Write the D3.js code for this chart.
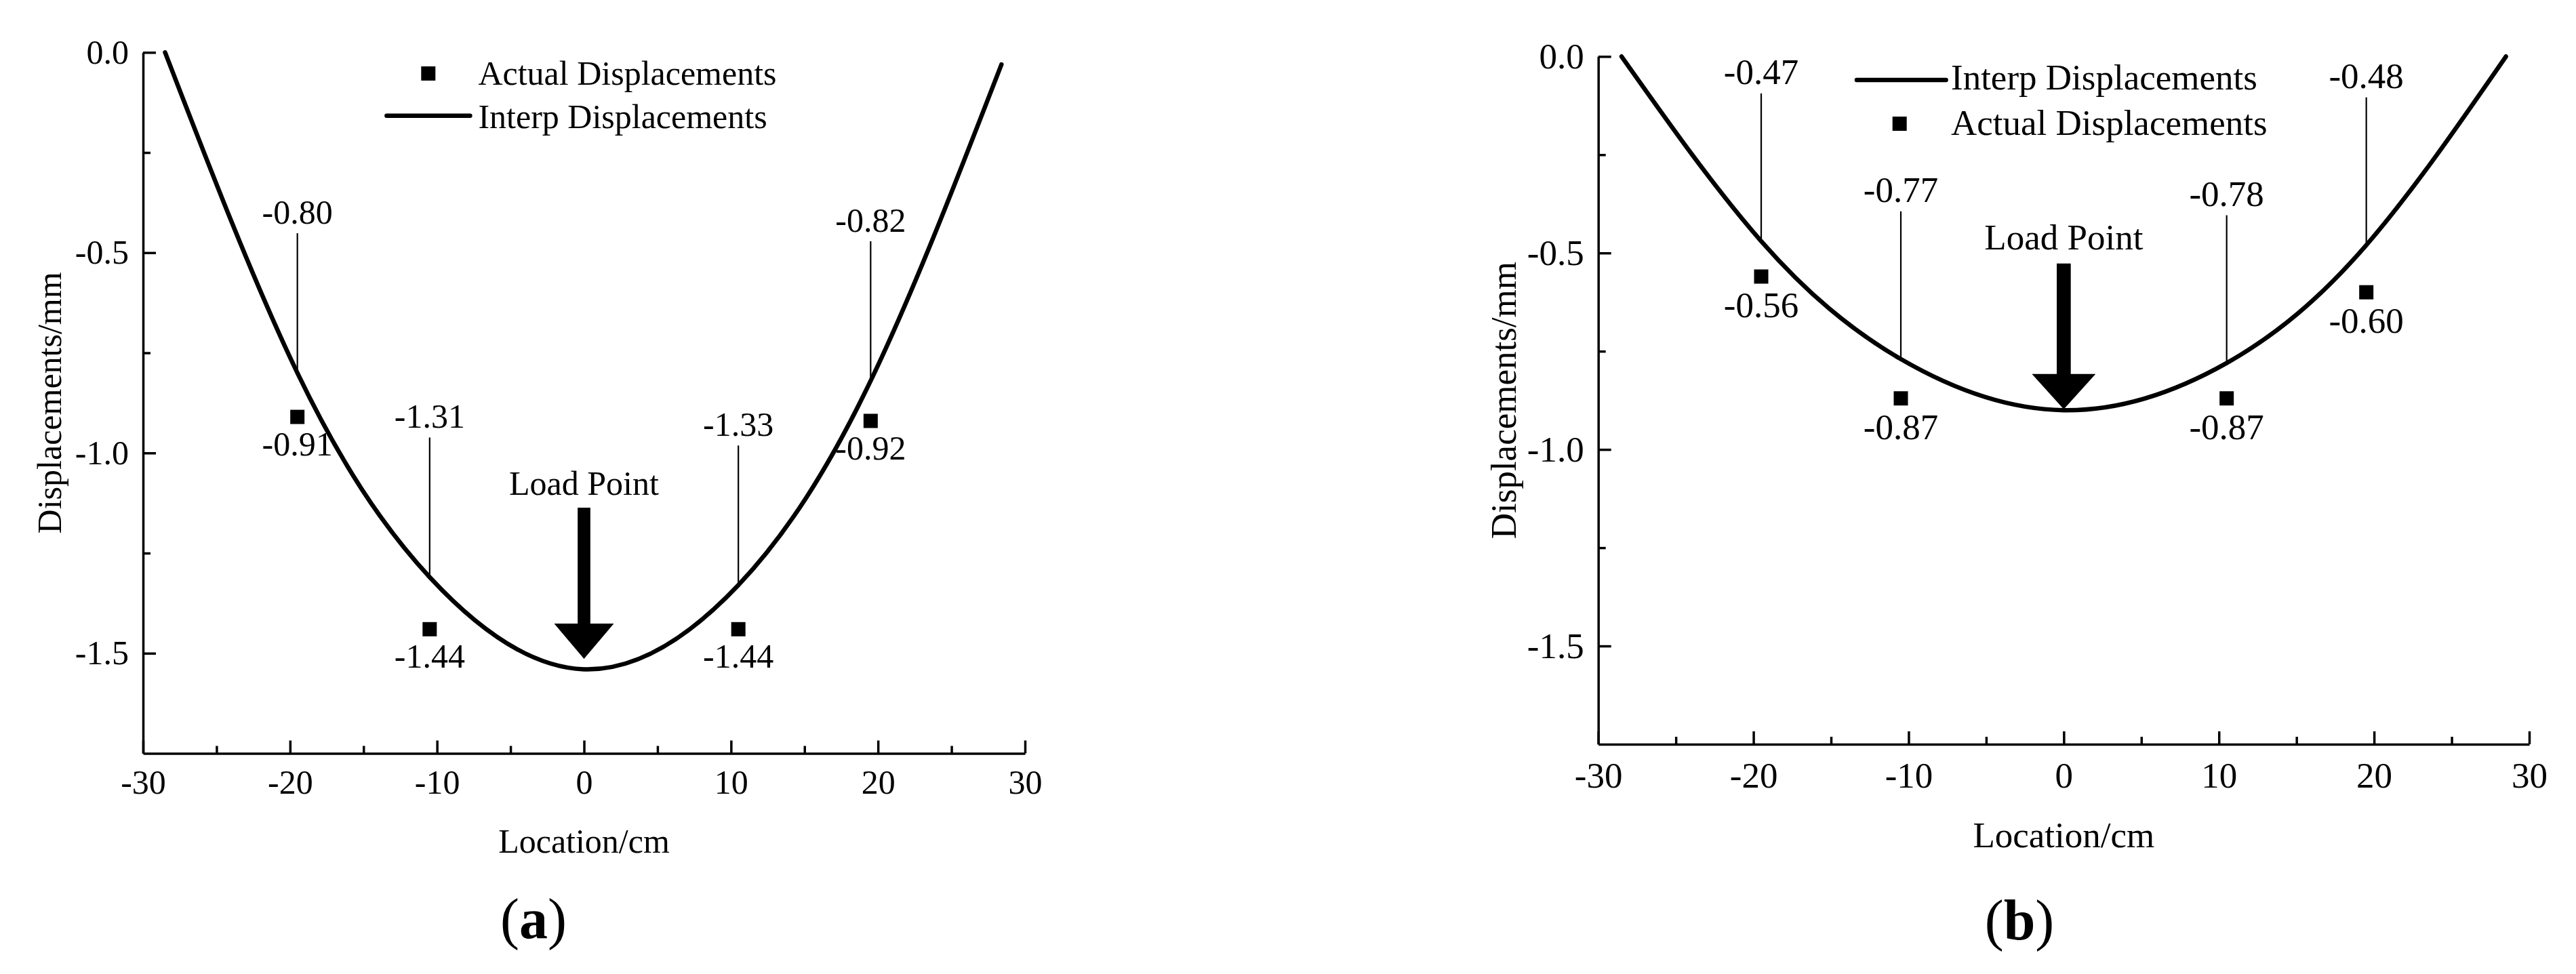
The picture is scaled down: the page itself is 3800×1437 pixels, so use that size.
<!DOCTYPE html>
<html>
<head>
<meta charset="utf-8">
<script src="https://cdn.jsdelivr.net/npm/d3@7"></script>
<style>
  body { margin: 0; background: #fff; }
  svg { display: block; }
  text { font-family: "Liberation Serif", "Times New Roman", serif; fill: #000; }
</style>
</head>
<body>
<script>
// Data
const interpLocA = [-28.5, -19.5, -10.5, 0, 10.5, 19.5, 28.4];
const interpDispA = [0.0, -0.80, -1.31, -1.54, -1.33, -0.82, -0.03];
const actualLocA = [-19.5, -10.5, 10.5, 19.5];
const actualDispA = [-0.91, -1.44, -1.44, -0.92];

const interpLocB = [-28.5, -19.5, -10.5, 0, 10.5, 19.5, 28.5];
const interpDispB = [0.0, -0.47, -0.77, -0.90, -0.78, -0.48, 0.0];
const actualLocB = [-19.5, -10.5, 10.5, 19.5];
const actualDispB = [-0.56, -0.87, -0.87, -0.60];

const xTicks = [-30, -20, -10, 0, 10, 20, 30];
const xMinorTicks = [-25, -15, -5, 5, 15, 25];
const yTicks = [0.0, -0.5, -1.0, -1.5];
const yMinorTicks = [-0.25, -0.75, -1.25];
const labelledIdx = [1, 2, 4, 5]; // interp points that get a leader + value

const width = 3800, height = 1437;

let svg = d3.select('body').append('svg')
    .attr('width', width)
    .attr('height', height);

svg.append('rect').attr('width', width).attr('height', height).attr('fill', '#fff');

// Layout for each panel
const panels = [
  {
    tag: 'a', loc: interpLocA, disp: interpDispA, aLoc: actualLocA, aDisp: actualDispA,
    left: 211, right: 1512, top: 77.3, bottom: 1111.5, fs: 50,
    xPad: 24, yTitleX: 90, xTitleY: 1258,
    leaderLen: 206, ptLabelDy: 57,
    arrow: { tipGap: 15.5, len: 223, shaft: 18.7, head: 88, headH: 52, textDy: 242 },
    legend: { x: 705.4, markerDx: -73.6, lineX: [-135, -12], markerDy: -16.5, lineDy: -18.3,
              rows: [['actual', 124.9], ['interp', 189]] },
    caption: { x: 787, y: 1384 }
  },
  {
    tag: 'b', loc: interpLocB, disp: interpDispB, aLoc: actualLocB, aDisp: actualDispB,
    left: 2357.7, right: 3731, top: 83.3, bottom: 1098, fs: 53,
    xPad: 26, yTitleX: 2236, xTitleY: 1250,
    leaderLen: 218, ptLabelDy: 60,
    arrow: { tipGap: 1.3, len: 215, shaft: 20.7, head: 94, headH: 52, textDy: 236 },
    legend: { x: 2878, markerDx: -75.8, lineX: [-139, -7.4], markerDy: -16.5, lineDy: -14,
              rows: [['interp', 132], ['actual', 199]] },
    caption: { x: 2979, y: 1386 }
  }
];

const legendText = { actual: 'Actual Displacements', interp: 'Interp Displacements' };

panels.forEach(drawPanel);

function drawPanel(p) {
    let x = d3.scaleLinear().domain([-30, 30]).range([p.left, p.right]);
    let y = d3.scaleLinear().domain([0, -1.75]).range([p.top, p.bottom]);
    let g = svg.append('g').attr('class', 'panel-' + p.tag);

    // Axes, ticks pointing inward
    let xAxis = g.append('g')
        .attr('transform', 'translate(0,' + p.bottom + ')')
        .call(d3.axisBottom(x).tickValues(xTicks).tickSizeInner(-19).tickSizeOuter(0)
            .tickPadding(p.xPad).tickFormat(d => String(d)));
    g.append('g')
        .attr('transform', 'translate(0,' + p.bottom + ')')
        .call(d3.axisBottom(x).tickValues(xMinorTicks).tickSizeInner(-11).tickSizeOuter(0).tickFormat(''))
        .call(s => s.select('.domain').remove());

    let yAxis = g.append('g')
        .attr('transform', 'translate(' + p.left + ',0)')
        .call(d3.axisLeft(y).tickValues(yTicks).tickSizeInner(-19).tickSizeOuter(0)
            .tickPadding(21).tickFormat(d => d.toFixed(1)));
    g.append('g')
        .attr('transform', 'translate(' + p.left + ',0)')
        .call(d3.axisLeft(y).tickValues(yMinorTicks).tickSizeInner(-11).tickSizeOuter(0).tickFormat(''))
        .call(s => s.select('.domain').remove());

    g.selectAll('.domain, .tick line').attr('stroke', '#000').attr('stroke-width', 3.5);
    g.selectAll('.tick text').attr('font-size', p.fs).attr('fill', '#000');
    [xAxis, yAxis].forEach(a => a.attr('font-family', null).attr('font-size', null));

    // Axis titles
    g.append('text')
        .attr('x', x(0)).attr('y', p.xTitleY)
        .attr('text-anchor', 'middle').attr('font-size', p.fs)
        .text('Location/cm');
    g.append('text')
        .attr('transform', 'translate(' + p.yTitleX + ',' + (p.top + p.bottom) / 2 + ') rotate(-90)')
        .attr('text-anchor', 'middle').attr('font-size', p.fs)
        .text('Displacements/mm');

    // Interpolated curve
    let pts = p.loc.map((d, i) => [d, p.disp[i]]);
    let line = d3.line().x(d => x(d[0])).y(d => y(d[1])).curve(d3.curveNatural);
    g.append('path')
        .datum(pts)
        .attr('d', line)
        .attr('fill', 'none').attr('stroke', '#000')
        .attr('stroke-width', 6.5).attr('stroke-linecap', 'round');

    // Leaders and values on the curve
    let lab = g.append('g').selectAll('g')
        .data(labelledIdx.map(i => pts[i]))
        .enter().append('g');
    lab.append('line')
        .attr('x1', d => x(d[0])).attr('x2', d => x(d[0]))
        .attr('y1', d => y(d[1]) - 3).attr('y2', d => y(d[1]) - p.leaderLen)
        .attr('stroke', '#000').attr('stroke-width', 2.2);
    lab.append('text')
        .attr('x', d => x(d[0])).attr('y', d => y(d[1]) - p.leaderLen - 14)
        .attr('text-anchor', 'middle').attr('font-size', p.fs)
        .text(d => d[1].toFixed(2));

    // Actual displacements
    let act = p.aLoc.map((d, i) => [d, p.aDisp[i]]);
    g.append('g').selectAll('rect')
        .data(act).enter().append('rect')
        .attr('x', d => x(d[0]) - 10.5).attr('y', d => y(d[1]) - 10.5)
        .attr('width', 21).attr('height', 21).attr('fill', '#000');
    g.append('g').selectAll('text')
        .data(act).enter().append('text')
        .attr('x', d => x(d[0])).attr('y', d => y(d[1]) + p.ptLabelDy)
        .attr('text-anchor', 'middle').attr('font-size', p.fs)
        .text(d => d[1].toFixed(2));

    // Load point arrow
    let a = p.arrow;
    let cx = x(0), tip = y(p.disp[3]) - a.tipGap;
    let arrowPts = [
        [cx - a.shaft / 2, tip - a.len], [cx + a.shaft / 2, tip - a.len],
        [cx + a.shaft / 2, tip - a.headH], [cx + a.head / 2, tip - a.headH],
        [cx, tip],
        [cx - a.head / 2, tip - a.headH], [cx - a.shaft / 2, tip - a.headH]
    ];
    g.append('path')
        .attr('d', 'M' + arrowPts.map(d => d.join(',')).join('L') + 'Z')
        .attr('fill', '#000');
    g.append('text')
        .attr('x', cx).attr('y', tip - a.textDy)
        .attr('text-anchor', 'middle').attr('font-size', p.fs)
        .text('Load Point');

    // Legend
    let lg = p.legend;
    lg.rows.forEach(r => {
        let kind = r[0], by = r[1];
        if (kind === 'actual') {
            g.append('rect')
                .attr('x', lg.x + lg.markerDx - 10.5).attr('y', by + lg.markerDy - 10.5)
                .attr('width', 21).attr('height', 21).attr('fill', '#000');
        } else {
            g.append('line')
                .attr('x1', lg.x + lg.lineX[0]).attr('x2', lg.x + lg.lineX[1])
                .attr('y1', by + lg.lineDy).attr('y2', by + lg.lineDy)
                .attr('stroke', '#000').attr('stroke-width', 6.5).attr('stroke-linecap', 'round');
        }
        g.append('text')
            .attr('x', lg.x).attr('y', by).attr('font-size', p.fs)
            .text(legendText[kind]);
    });

    // Panel caption
    let cap = g.append('text')
        .attr('x', p.caption.x).attr('y', p.caption.y)
        .attr('text-anchor', 'middle').attr('font-size', 84);
    cap.append('tspan').text('(');
    cap.append('tspan').attr('font-weight', 'bold').text(p.tag);
    cap.append('tspan').text(')');
}
</script>
</body>
</html>
